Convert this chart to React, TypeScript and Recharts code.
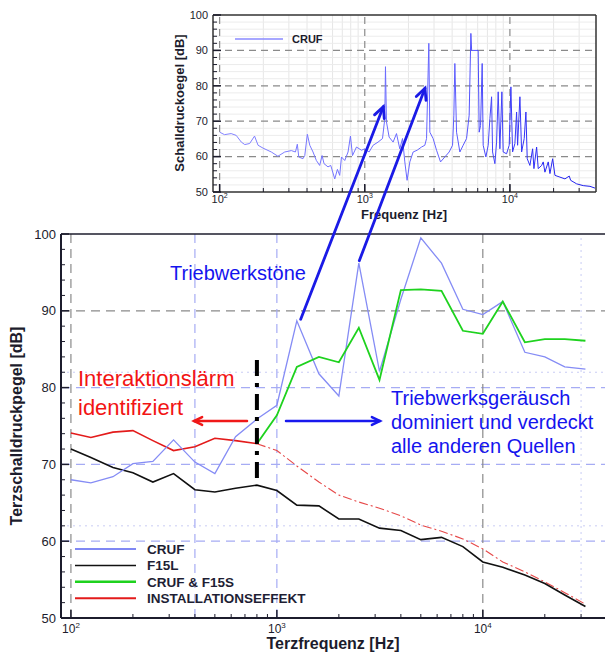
import React from 'react';
import { LineChart, Line, XAxis, YAxis, ReferenceLine } from 'recharts';

// third-octave bands (Hz) and levels (dB)
const bands = [100, 125, 160, 200, 250, 315, 400, 500, 630, 800, 1000, 1250, 1600, 2000, 2500, 3150, 4000, 5000, 6300, 8000, 10000, 12500, 16000, 20000, 25000, 31500];
const crufLevels = [68.0, 67.6, 68.4, 70.1, 70.4, 73.2, 70.3, 68.8, 73.6, 75.9, 77.7, 88.7, 81.8, 78.9, 96.2, 82.1, 91.5, 99.5, 96.2, 90.2, 89.5, 91.2, 84.6, 84.0, 82.7, 82.4];
const f15lLevels = [72.0, 70.9, 69.6, 68.9, 67.7, 68.8, 66.7, 66.4, 66.9, 67.3, 66.6, 64.7, 64.6, 62.9, 62.9, 61.7, 61.4, 60.2, 60.5, 59.3, 57.3, 56.6, 55.6, 54.5, 53.0, 51.5];
const crufF15sLevels = [null, null, null, null, null, null, null, null, null, 72.7, 76.4, 82.7, 84.0, 83.3, 87.8, 81.0, 92.7, 92.8, 92.6, 87.4, 87.0, 91.2, 85.9, 86.3, 86.3, 86.1];
const installSolid = [74.1, 73.5, 74.2, 74.4, 73.1, 71.8, 72.3, 73.4, 73.1, 72.7, null, null, null, null, null, null, null, null, null, null, null, null, null, null, null, null];
const installDashed = [null, null, null, null, null, null, null, null, null, 72.7, 71.8, 69.8, 67.7, 66.0, 65.1, 64.3, 63.3, 62.1, 61.3, 60.3, 59.0, 57.3, 56.0, 54.7, 53.3, 51.8];

const legendNames = ['CRUF', 'F15L', 'CRUF & F15S', 'INSTALLATIONSEFFEKT'];
const insetLegendName = 'CRUF';

// narrowband spectrum of the inset
const insetFreq = [100, 108, 120, 130, 141, 149, 161, 174, 184, 199, 227, 252, 281, 312, 333, 343, 351, 375, 386, 402, 418, 440, 464, 489, 508, 524, 558, 583, 621, 648, 672, 691, 728, 767, 797, 823, 877, 949, 1000, 1071, 1141, 1235, 1325, 1374, 1389, 1411, 1472, 1568, 1654, 1743, 1820, 1888, 1957, 2044, 2154, 2295, 2460, 2593, 2665, 2763, 2808, 2958, 3123, 3327, 3562, 3815, 4025, 4110, 4176, 4290, 4521, 4764, 5028, 5240, 5383, 5450, 6045, 6142, 6280, 6442, 6545, 6832, 7087, 7280, 7479, 7599, 7881, 8097, 8305, 8531, 8806, 8990, 9489, 9890, 10160, 10436, 10826, 11122, 11300, 11722, 12043, 12551, 12894, 13163, 13738, 14341, 14640, 15280, 15676, 16541, 16968, 17430, 18374, 18878, 19704, 20434, 22132, 23956, 25643, 26216, 28840, 32020, 35620, 38570];
const insetLevel = [66.9, 66.2, 66.5, 66.0, 64.1, 63.4, 63.7, 65.8, 63.2, 62.4, 61.3, 60.1, 61.3, 61.7, 61.3, 63.5, 59.9, 59.4, 60.3, 66.3, 63.2, 61.3, 58.9, 57.5, 60.3, 58.0, 57.1, 57.5, 53.7, 56.4, 54.7, 59.9, 58.9, 61.3, 65.8, 60.3, 62.7, 61.8, 62.2, 61.3, 63.2, 64.1, 65.1, 70.7, 85.4, 69.8, 65.5, 64.1, 66.5, 62.2, 65.1, 58.5, 53.3, 58.5, 61.3, 61.8, 62.7, 63.2, 65.1, 92.0, 66.9, 65.1, 61.8, 58.5, 59.9, 61.3, 63.2, 71.7, 86.3, 66.9, 61.3, 63.2, 65.1, 71.7, 94.8, 90.0, 90.0, 66.9, 68.8, 86.3, 63.2, 59.9, 63.2, 70.7, 76.9, 61.3, 58.0, 64.1, 78.3, 62.2, 78.3, 61.3, 60.8, 63.2, 79.7, 61.3, 63.7, 72.6, 63.2, 76.9, 61.3, 65.1, 72.6, 59.4, 57.5, 62.2, 56.6, 62.7, 56.6, 57.5, 58.5, 55.6, 58.5, 55.2, 59.4, 54.7, 54.2, 53.7, 54.5, 53.3, 52.3, 51.8, 51.6, 51.1];

const freqTicks = [100, 200, 300, 400, 500, 600, 700, 800, 900, 1000, 2000, 3000, 4000, 5000, 6000, 7000, 8000, 9000, 10000, 20000, 30000];
const majorFreqTicks = [100, 1000, 10000];
const levelTicks = [50, 52, 54, 56, 58, 60, 62, 64, 66, 68, 70, 72, 74, 76, 78, 80, 82, 84, 86, 88, 90, 92, 94, 96, 98, 100];

const mainRows = bands.map((f, i) => ({
  f,
  cruf: crufLevels[i],
  f15l: f15lLevels[i],
  cruff15s: crufF15sLevels[i],
  inst: installSolid[i],
  instDash: installDashed[i],
}));
const insetRows = insetFreq.map((f, i) => ({ f, v: insetLevel[i] }));

const FONT = '"Liberation Sans", Arial, Helvetica, sans-serif';
const INK = '#1c1c2c';
const BLUE_TXT = '#1414ee';
const RED_TXT = '#f21414';

const makeXTick = (fontSize: number, gap: number) => (props: any) => {
  const { x, y, payload } = props;
  const v = payload.value as number;
  const major = majorFreqTicks.includes(v);
  return (
    <g>
      <line x1={x} x2={x} y1={y} y2={y - (major ? 8 : 4)} stroke={INK} strokeWidth={major ? 1.5 : 1} />
      {major && (
        <text x={x} y={y + gap} textAnchor="middle" fontSize={fontSize} fill={INK} fontFamily={FONT}>
          10<tspan dy={-5} fontSize={fontSize - 4}>{Math.round(Math.log10(v))}</tspan>
        </text>
      )}
    </g>
  );
};

const makeYTick = (fontSize: number) => (props: any) => {
  const { x, y, payload } = props;
  const v = payload.value as number;
  const major = v % 10 === 0;
  return (
    <g>
      <line x1={x} x2={x + (major ? 8 : 4)} y1={y} y2={y} stroke={INK} strokeWidth={major ? 1.5 : 1} />
      {major && (
        <text x={x - 5} y={y} dy={fontSize * 0.35} textAnchor="end" fontSize={fontSize} fill={INK} fontFamily={FONT}>
          {v}
        </text>
      )}
    </g>
  );
};

const mainXTick = makeXTick(12, 15);
const insetXTick = makeXTick(11, 11);
const mainYTick = makeYTick(13);
const insetYTick = makeYTick(11);

function Arrow({ x1, y1, x2, y2, color, w = 2.5, head = 10 }: any) {
  const a = Math.atan2(y2 - y1, x2 - x1);
  const s = 0.45;
  const p1 = [x2 - head * Math.cos(a - s), y2 - head * Math.sin(a - s)];
  const p2 = [x2 - head * Math.cos(a + s), y2 - head * Math.sin(a + s)];
  return (
    <g stroke={color} strokeWidth={w} fill="none" strokeLinecap="round">
      <line x1={x1} y1={y1} x2={x2} y2={y2} />
      <polyline points={`${p1[0]},${p1[1]} ${x2},${y2} ${p2[0]},${p2[1]}`} />
    </g>
  );
}

const legendStyles = [
  { stroke: '#8088f4', w: 2 },
  { stroke: '#111111', w: 1.5 },
  { stroke: '#1ed21e', w: 2.5 },
  { stroke: '#e31b1b', w: 2 },
];

export default function App() {
  const gridGray = '#8a8a8a';
  const gridBlue = '#a6acf4';
  const gridDot = '#c9ccf4';
  return (
    <div style={{ position: 'fixed', left: 0, top: 0, width: 605, height: 653, overflow: 'hidden', background: '#fff', fontFamily: FONT }}>
      {/* main third-octave chart */}
      <div style={{ position: 'absolute', left: 0, top: 0 }}>
        <LineChart width={605} height={653} data={mainRows} margin={{ top: 234, right: 0, bottom: 0, left: 0 }}>
          <XAxis dataKey="f" type="number" scale="log" domain={[89.5, 39200]} allowDataOverflow ticks={freqTicks} interval={0}
            tickSize={0} tickMargin={0} tick={mainXTick} height={35} axisLine={{ stroke: INK, strokeWidth: 2 }} />
          <YAxis type="number" domain={[50, 100]} ticks={levelTicks} interval={0} tickSize={0} tickMargin={0}
            tick={mainYTick} width={61} axisLine={{ stroke: INK, strokeWidth: 2 }} />
          <ReferenceLine y={62} stroke={gridDot} strokeDasharray="2 4" />
          <ReferenceLine y={82} stroke={gridDot} strokeDasharray="2 4" />
          <ReferenceLine x={30000} stroke={gridDot} strokeDasharray="2 4" />
          <ReferenceLine y={60} stroke={gridBlue} strokeWidth={1.2} strokeDasharray="9 6" />
          <ReferenceLine y={70} stroke={gridBlue} strokeWidth={1.2} strokeDasharray="9 6" />
          <ReferenceLine y={80} stroke={gridBlue} strokeWidth={1.2} strokeDasharray="9 6" />
          <ReferenceLine y={90} stroke={gridGray} strokeWidth={1.2} strokeDasharray="9 6" />
          <ReferenceLine x={100} stroke={gridGray} strokeWidth={1.2} strokeDasharray="9 6" />
          <ReferenceLine x={400} stroke={gridBlue} strokeWidth={1.2} strokeDasharray="9 6" />
          <ReferenceLine x={1000} stroke={gridBlue} strokeWidth={1.2} strokeDasharray="9 6" />
          <ReferenceLine x={10000} stroke={gridGray} strokeWidth={1.2} strokeDasharray="9 6" />
          <ReferenceLine y={100} stroke={INK} strokeWidth={1.5} />
          <Line dataKey="instDash" stroke="#e64848" strokeWidth={1.1} strokeDasharray="9 3 2 3" dot={false} isAnimationActive={false} />
          <Line dataKey="f15l" stroke="#111111" strokeWidth={1.6} dot={false} isAnimationActive={false} />
          <Line dataKey="inst" stroke="#e31b1b" strokeWidth={1.6} dot={false} isAnimationActive={false} />
          <Line dataKey="cruf" stroke="#858cf5" strokeWidth={1.3} dot={false} isAnimationActive={false} />
          <Line dataKey="cruff15s" stroke="#1ed21e" strokeWidth={1.8} dot={false} isAnimationActive={false} />
          <ReferenceLine segment={[{ x: 800, y: 83.6 }, { x: 800, y: 67.2 }]} stroke="#000" strokeWidth={4} strokeDasharray="16 7 4 7" />
        </LineChart>
      </div>

      {/* inset narrowband spectrum */}
      <div style={{ position: 'absolute', left: 0, top: 0 }}>
        <LineChart width={605} height={225} data={insetRows} margin={{ top: 15, right: 9, bottom: 0, left: 0 }}>
          <defs>
            <linearGradient id="insetStroke" x1="0" y1="0" x2="1" y2="0">
              <stop offset="0%" stopColor="#8585ff" />
              <stop offset="60%" stopColor="#6262ff" />
              <stop offset="85%" stopColor="#2a2af5" />
              <stop offset="100%" stopColor="#1c1ce8" />
            </linearGradient>
          </defs>
          <XAxis dataKey="f" type="number" scale="log" domain={[90, 39200]} allowDataOverflow ticks={freqTicks} interval={0}
            tickSize={0} tickMargin={0} tick={insetXTick} height={33} axisLine={{ stroke: '#333', strokeWidth: 1.5 }} />
          <YAxis type="number" domain={[50, 100]} ticks={levelTicks} interval={0} tickSize={0} tickMargin={0}
            tick={insetYTick} width={213} axisLine={{ stroke: '#333', strokeWidth: 1.5 }} />
          {freqTicks.filter((t) => !majorFreqTicks.includes(t)).map((t) => (
            <ReferenceLine key={'vx' + t} x={t} stroke="#e6e6e6" />
          ))}
          {levelTicks.filter((t) => t % 10 !== 0).map((t) => (
            <ReferenceLine key={'hy' + t} y={t} stroke="#ececec" />
          ))}
          <ReferenceLine y={60} stroke={gridGray} strokeWidth={1.2} strokeDasharray="7 5" />
          <ReferenceLine y={70} stroke={gridGray} strokeWidth={1.2} strokeDasharray="7 5" />
          <ReferenceLine y={80} stroke={gridGray} strokeWidth={1.2} strokeDasharray="7 5" />
          <ReferenceLine y={90} stroke={gridGray} strokeWidth={1.2} strokeDasharray="7 5" />
          <ReferenceLine x={100} stroke={gridGray} strokeWidth={1.2} strokeDasharray="7 5" />
          <ReferenceLine x={1000} stroke={gridGray} strokeWidth={1.2} strokeDasharray="7 5" />
          <ReferenceLine x={10000} stroke={gridGray} strokeWidth={1.2} strokeDasharray="7 5" />
          <ReferenceLine y={100} stroke="#333" strokeWidth={1.5} />
          <ReferenceLine x={39200} stroke="#333" strokeWidth={1.5} />
          <Line dataKey="v" stroke="url(#insetStroke)" strokeWidth={1} dot={false} isAnimationActive={false} />
        </LineChart>
      </div>

      {/* titles, legends and annotations */}
      <svg width={605} height={653} style={{ position: 'absolute', left: 0, top: 0, pointerEvents: 'none' }} fontFamily={FONT}>
        <text transform="translate(179,103) rotate(-90)" textAnchor="middle" dy={4.6} fontSize={13} fontWeight="bold" fill={INK}>Schalldruckoegel [dB]</text>
        <text x={404} y={219} textAnchor="middle" fontSize={13} fontWeight="bold" fill={INK}>Frequenz [Hz]</text>
        <line x1={235} x2={283} y1={39} y2={39} stroke="#8a8aff" strokeWidth={1.5} />
        <text x={292} y={43} fontSize={11} fontWeight="bold" fill={INK}>{insetLegendName}</text>

        <text transform="translate(16,426) rotate(-90)" textAnchor="middle" dy={5.7} fontSize={16} fontWeight="bold" fill={INK}>Terzschalldruckpegel [dB]</text>
        <text x={333} y={649} textAnchor="middle" fontSize={16} fontWeight="bold" fill={INK}>Terzfrequenz [Hz]</text>

        {legendNames.map((name, i) => {
          const y = 549 + i * 16.4;
          return (
            <g key={name}>
              <line x1={75} x2={136} y1={y} y2={y} stroke={legendStyles[i].stroke} strokeWidth={legendStyles[i].w} />
              <text x={147} y={y + 5} fontSize={13.5} fontWeight="bold" fill="#1e1e34">{name}</text>
            </g>
          );
        })}

        <text x={170} y={280} fontSize={20} fill={BLUE_TXT}>Triebwerkstöne</text>
        <text x={78} y={386} fontSize={22} fill={RED_TXT}>Interaktionslärm</text>
        <text x={78} y={415} fontSize={22} fill={RED_TXT}>identifiziert</text>
        <text x={391} y={405} fontSize={20} fill={BLUE_TXT}>Triebwerksgeräusch</text>
        <text x={391} y={429} fontSize={20} fill={BLUE_TXT}>dominiert und verdeckt</text>
        <text x={391} y={453} fontSize={20} fill={BLUE_TXT}>alle anderen Quellen</text>

        <Arrow x1={247} y1={421} x2={194} y2={421} color="#f01818" w={2.5} head={9} />
        <Arrow x1={286} y1={421} x2={380} y2={421} color="#1818ee" w={2.5} head={9} />
        <Arrow x1={300.7} y1={319.3} x2={383.3} y2={106.7} color="#1a1ae6" w={2.8} head={12} />
        <Arrow x1={359.3} y1={260.7} x2={425} y2={88.3} color="#1a1ae6" w={2.8} head={12} />
      </svg>
    </div>
  );
}
